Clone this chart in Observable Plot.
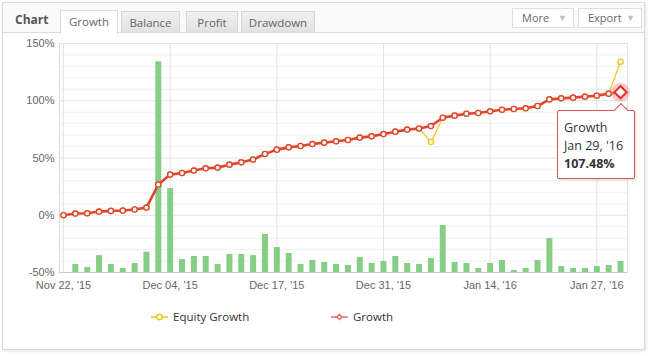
<!DOCTYPE html>
<html>
<head>
<meta charset="utf-8">
<script src="https://cdn.jsdelivr.net/npm/d3@7"></script>
<script src="https://cdn.jsdelivr.net/npm/@observablehq/plot@0.6"></script>
<style>
  html, body { margin: 0; padding: 0; background: #fff; }
  body { width: 649px; height: 356px; position: relative; overflow: hidden; font-family: "Open Sans", "Noto Sans", sans-serif; }
  .panel { position: absolute; left: 2px; top: 2px; width: 641px; height: 346px; border: 1px solid #dcdcdc; background: #fff; box-shadow: 1px 1px 3px rgba(0,0,0,0.12); }
  .header { position: absolute; left: 0; top: 0; width: 641px; height: 29px; background: #fafafa; border-bottom: 1px solid #dcdcdc; }
  .title { position: absolute; left: 12px; top: 8px; font-size: 12px; font-weight: 700; color: #555; }
  .tab { position: absolute; top: 8px; height: 20px; border: 1px solid #d6d6d6; border-bottom: none; background: linear-gradient(#f0f0f0, #e2e2e2); color: #666; font-size: 11.5px; text-align: center; line-height: 21px; }
  .tab.active { top: 7px; height: 23px; background: #fff; border-color: #dcdcdc; }
  .btn { position: absolute; top: 5px; height: 18px; border: 1px solid #dedede; background: #fff; color: #666; font-size: 11px; line-height: 18px; padding-left: 9px; }
  .btn span { color: #c0c0c0; font-size: 9px; position: absolute; right: 6px; top: 0; }
  #chart { position: absolute; left: 0; top: 32px; }
  .legend { position: absolute; top: 309px; font-size: 11.5px; color: #333; display: flex; align-items: center; }
  .legend svg { margin-right: 5px; }
  .tip { position: absolute; background: #fff; border: 1px solid #d9534f; border-radius: 2px; box-shadow: 1px 1px 3px rgba(0,0,0,0.15); font-size: 12.5px; color: #333; line-height: 18px; padding: 8px 6px 6px 6px; box-sizing: border-box; }
  .arrow { position: absolute; width: 9px; height: 9px; background: #fff; border-left: 1px solid #d9534f; border-top: 1px solid #d9534f; transform: rotate(45deg); }
</style>
</head>
<body>
<div class="panel">
  <div class="header">
    <div class="title">Chart</div>
    <div class="tab active" style="left:57px;width:56px;">Growth</div>
    <div class="tab" style="left:118px;width:57px;">Balance</div>
    <div class="tab" style="left:183px;width:50px;">Profit</div>
    <div class="tab" style="left:238px;width:72px;">Drawdown</div>
    <div class="btn" style="left:509px;width:51px;">More<span>▼</span></div>
    <div class="btn" style="left:575px;width:53px;">Export<span>▼</span></div>
  </div>
</div>
<div id="chart"></div>
<div class="legend" style="left:151px;">
  <svg width="17" height="10"><line x1="0" y1="5" x2="17" y2="5" stroke="#f5c31c" stroke-width="1.5"/><circle cx="8.5" cy="5" r="2.8" fill="#fff" stroke="#f5c31c" stroke-width="1.5"/></svg>Equity Growth
</div>
<div class="legend" style="left:331px;">
  <svg width="17" height="10"><line x1="0" y1="5" x2="17" y2="5" stroke="#e7928a" stroke-width="2"/><path d="M8.5,2.3 L11.2,5 L8.5,7.7 L5.8,5 Z" fill="#fff" stroke="#e06b5f" stroke-width="1.3"/></svg>Growth
</div>
<script>
// ---- data ----
const dates = ["2015-11-22","2015-11-23","2015-11-24","2015-11-25","2015-11-27","2015-11-30","2015-12-01","2015-12-02","2015-12-03","2015-12-04",
  "2015-12-07","2015-12-08","2015-12-09","2015-12-10","2015-12-11","2015-12-14","2015-12-15","2015-12-16","2015-12-17",
  "2015-12-18","2015-12-21","2015-12-22","2015-12-23","2015-12-24","2015-12-28","2015-12-29","2015-12-30","2015-12-31",
  "2016-01-04","2016-01-05","2016-01-06","2016-01-07","2016-01-08","2016-01-11","2016-01-12","2016-01-13","2016-01-14",
  "2016-01-15","2016-01-18","2016-01-19","2016-01-20","2016-01-21","2016-01-22","2016-01-25","2016-01-26","2016-01-27",
  "2016-01-28","2016-01-29"];
const growth = [0, 1.5, 1.7, 3.2, 3.8, 4.1, 5.0, 6.7, 26.8, 35.5,
  36.9, 39.0, 41.0, 41.6, 44.2, 46.2, 48.6, 53.5, 57.3,
  59.3, 60.5, 62.2, 63.4, 64.6, 65.7, 67.8, 68.9, 70.9,
  73.0, 74.8, 75.8, 77.9, 85.2, 87.0, 88.7, 89.3, 90.8,
  92.2, 92.8, 93.4, 95.4, 101.2, 102.1, 102.7, 103.6, 104.4,
  106.2, 107.48];
const equityGrowth = [0, 1.5, 1.7, 3.2, 3.8, 4.1, 5.0, 6.7, 26.8, 35.5,
  36.9, 39.0, 41.0, 41.6, 44.2, 46.2, 48.6, 53.5, 57.3,
  59.3, 60.5, 62.2, 63.4, 64.6, 65.7, 67.8, 68.9, 70.9,
  73.0, 74.8, 75.8, 64.0, 85.2, 87.0, 88.7, 89.3, 90.8,
  92.2, 92.8, 93.4, 95.4, 101.2, 102.1, 102.7, 103.6, 104.4,
  106.2, 134.1];
// daily bars (top level on the same % axis, drawn up from the -50% baseline)
const dailyBars = [null, -43.0, -45.6, -35.2, -43.0, -46.5, -42.1, -32.3, 134.1, 23.3,
  -38.7, -36.0, -36.0, -43.0, -34.3, -34.3, -35.2, -16.8, -28.2,
  -33.4, -43.0, -39.5, -41.3, -43.0, -43.9, -36.9, -42.1, -40.4,
  -36.0, -42.1, -43.0, -37.8, -9.0, -41.3, -42.1, -46.5, -42.1,
  -39.5, -48.3, -46.5, -39.5, -20.3, -44.8, -46.5, -46.5, -44.8,
  -43.9, -40.4];
const barBase = -50;
const xTicks = ["2015-11-22","2015-12-04","2015-12-17","2015-12-31","2016-01-14","2016-01-27"];
const yTicks = [-50, 0, 50, 100, 150];
const yMinorTicks = [-40, -30, -20, -10, 10, 20, 30, 40, 60, 70, 80, 90, 110, 120, 130, 140];

// ---- build ----
const parse = d3.utcParse("%Y-%m-%d");
const fmtTick = d => d3.utcFormat("%b %d, '%y")(parse(d));
const rows = dates.map((d, i) => ({date: d, growth: growth[i], equity: equityGrowth[i], bar: dailyBars[i]}));
const last = rows[rows.length - 1];
const RED = "#e0462f", YEL = "#f5c31c";

const chart = Plot.plot({
  width: 649, height: 268,
  marginLeft: 59, marginRight: 22, marginTop: 11, marginBottom: 28,
  style: {fontFamily: "'Liberation Sans', Arial, sans-serif", fontSize: "11px", color: "#666", background: "transparent"},
  x: {type: "point", domain: dates, range: [63, 620], padding: 0, label: null},
  y: {domain: [-50, 150], label: null},
  marks: [
    Plot.gridY(yMinorTicks, {stroke: "#f1f1f1", strokeOpacity: 1}),
    Plot.gridY(yTicks, {stroke: "#e3e3e3", strokeOpacity: 1}),
    Plot.gridX(xTicks, {stroke: "#e3e3e3", strokeOpacity: 1}),
    Plot.frame({anchor: "left", stroke: "#dcdcdc"}),
    Plot.frame({anchor: "right", stroke: "#e3e3e3"}),
    Plot.ruleX(rows.filter(d => d.bar != null), {x: "date", y1: barBase, y2: "bar", stroke: "#86ce86", strokeWidth: 6}),
    Plot.ruleY([barBase], {stroke: "#c8c8c8"}),
    Plot.axisY(yTicks, {tickSize: 0, tickPadding: 5, tickFormat: d => d + "%", color: "#666", label: null}),
    Plot.axisX(xTicks, {tickSize: 0, tickPadding: 9, tickFormat: fmtTick, color: "#666", label: null}),
    Plot.line(rows, {x: "date", y: "equity", stroke: YEL, strokeWidth: 1.2}),
    Plot.dot(rows, {x: "date", y: "equity", r: 2.6, fill: "#fff", stroke: YEL, strokeWidth: 1.3}),
    Plot.line(rows, {x: "date", y: "growth", stroke: RED, strokeWidth: 2.6}),
    Plot.dot(rows.slice(0, -1), {x: "date", y: "growth", r: 2.6, fill: "#fff", stroke: RED, strokeWidth: 1.4}),
    Plot.dot([last], {x: "date", y: "growth", r: 9.5, fill: "#f08a8a", fillOpacity: 0.45}),
    Plot.dot([last], {x: "date", y: "growth", r: 5.5, symbol: "diamond2", fill: "#fff", stroke: "#e0322f", strokeWidth: 2})
  ]
});
document.getElementById("chart").appendChild(chart);

// tooltip anchored to the last point through the plot's scales
const px = chart.scale("x").apply(last.date);
const py = chart.scale("y").apply(last.growth) + 32;
const tip = document.createElement("div");
tip.className = "tip";
tip.style.left = (px - 63) + "px";
tip.style.top = (py + 18) + "px";
tip.style.width = "78px";
tip.style.height = "69px";
tip.innerHTML = `<div>Growth</div><div>${d3.utcFormat("%b %d, '%y")(parse(last.date))}</div><div style="font-weight:700">${last.growth.toFixed(2)}%</div>`;
const arrow = document.createElement("div");
arrow.className = "arrow";
arrow.style.top = "-5.5px";
arrow.style.left = "58px";
tip.appendChild(arrow);
document.body.appendChild(tip);
</script>
</body>
</html>
